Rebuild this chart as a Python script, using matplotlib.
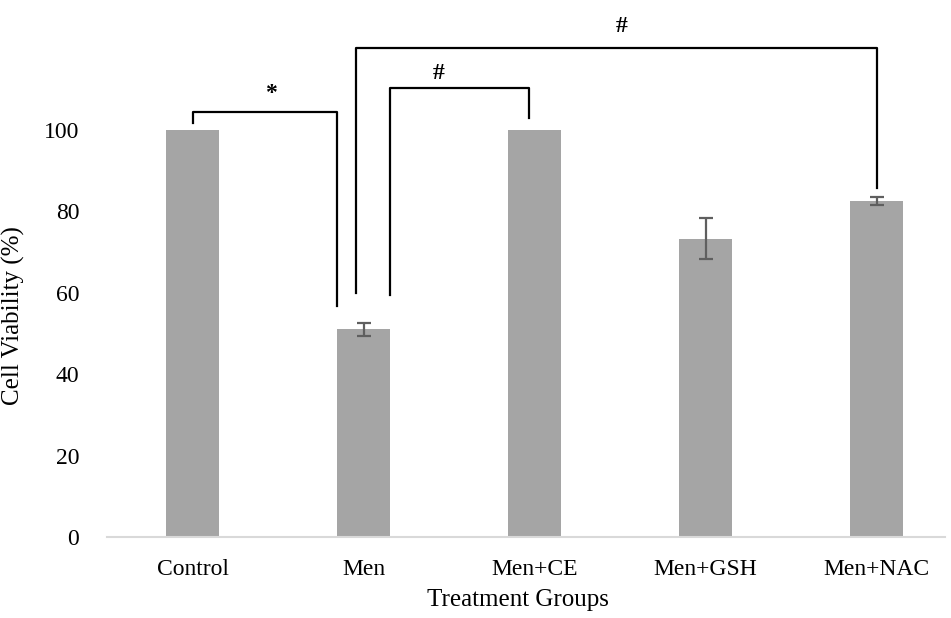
import matplotlib.pyplot as plt
import numpy as np

plt.rcParams['font.family'] = ['Liberation Serif', 'DejaVu Serif']

# Données
groups = ['Control', 'Men', 'Men+CE', 'Men+GSH', 'Men+NAC']
viability = [100, 51, 100, 73.3, 82.6]
err = [0, 1.6, 0, 5.0, 1.0]

# Crochets de significativité : (x gauche, y bas gauche, x droite, y bas droite, y haut, symbole, x texte, y texte)
brackets = [
    (0.0, 101.7, 0.845, 56.8, 104.4, '*', 0.46, 109.0),
    (1.155, 59.5, 1.97, 102.9, 110.3, '#', 1.44, 114.0),
    (0.956, 60.0, 4.0, 85.7, 120.1, '#', 2.51, 125.5),
]

fig = plt.figure(figsize=(9.51, 6.18), dpi=100)
ax = fig.add_axes([107 / 951, 1 - 537 / 618, 838 / 951, 537 / 618])

x = np.arange(len(groups))
ax.bar(x, viability, width=0.31, color='#a5a5a5', zorder=2)

# Barres d'erreur seulement là où il y en a
idx = [i for i, e in enumerate(err) if e > 0]
ax.errorbar([x[i] for i in idx], [viability[i] for i in idx],
            yerr=[err[i] for i in idx], fmt='none',
            ecolor='#5f5f5f', elinewidth=1.6, capsize=5, capthick=1.6, zorder=3)

# Tracer les crochets
for xl, yl, xr, yr, yt, sym, tx, ty in brackets:
    ax.plot([xl, xl, xr, xr], [yl, yt, yt, yr], color='black', lw=1.6,
            clip_on=False, zorder=4)
    ax.text(tx, ty, sym, ha='center', va='center', fontsize=17,
            fontweight='bold', clip_on=False)

ax.set_xlim(-0.5, 4.4)
ax.set_ylim(0, 537 / 4.07)
ax.set_yticks([0, 20, 40, 60, 80, 100])
ax.set_xticks(x)
ax.set_xticklabels(groups)
ax.tick_params(axis='both', length=0, labelsize=17)
ax.tick_params(axis='y', pad=20)
ax.tick_params(axis='x', pad=16)

for s in ['top', 'right', 'left']:
    ax.spines[s].set_visible(False)
ax.spines['bottom'].set_color('#d9d9d9')
ax.spines['bottom'].set_linewidth(1.5)

ax.set_ylabel('Cell Viability (%)', fontsize=18)
ax.yaxis.set_label_coords(-0.098, 0.413)
ax.set_xlabel('Treatment Groups', fontsize=18, va='center')
ax.xaxis.set_label_coords(0.49, -0.117)

fig.savefig('out.png', dpi=100)
